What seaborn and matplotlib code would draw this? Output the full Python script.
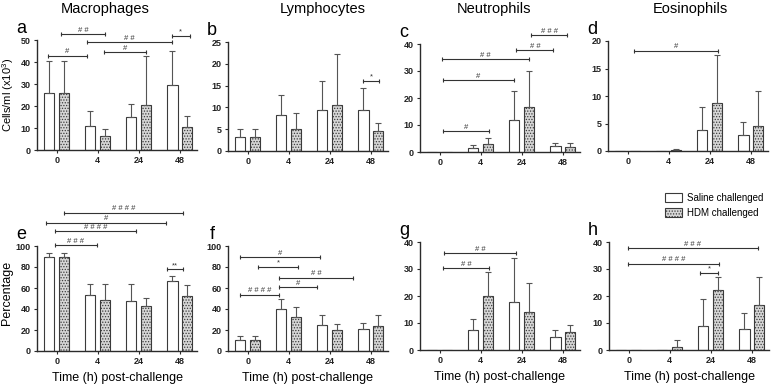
import numpy as np
import pandas as pd
import seaborn as sns
import matplotlib.pyplot as plt
from matplotlib.patches import Patch

times = ['0', '4', '24', '48']
groups = ['Saline challenged', 'HDM challenged']

# Top row: cells/ml (x10^3), mean and SD (only the upper SD is drawn)
mac_cells_saline = [25.8, 10.9, 15.2, 29.5]
mac_cells_saline_sd = [14.7, 6.8, 5.6, 15.7]
mac_cells_hdm = [25.8, 6.5, 20.3, 10.3]
mac_cells_hdm_sd = [14.7, 2.9, 22.6, 5.3]

lym_cells_saline = [3.1, 8.2, 9.3, 9.3]
lym_cells_saline_sd = [2.0, 4.7, 6.7, 5.1]
lym_cells_hdm = [3.1, 5.0, 10.6, 4.5]
lym_cells_hdm_sd = [2.0, 3.8, 11.6, 2.0]

neu_cells_saline = [0, 1.6, 11.7, 2.1]
neu_cells_saline_sd = [0, 1.1, 10.9, 1.4]
neu_cells_hdm = [0, 3.1, 16.8, 1.7]
neu_cells_hdm_sd = [0, 2.1, 13.2, 1.8]

eos_cells_saline = [0, 0, 3.9, 3.0]
eos_cells_saline_sd = [0, 0, 4.1, 2.3]
eos_cells_hdm = [0, 0.1, 8.8, 4.6]
eos_cells_hdm_sd = [0, 0.2, 8.6, 6.3]

# Bottom row: percentage of cells
mac_pct_saline = [89.8, 53.7, 47.9, 67.0]
mac_pct_saline_sd = [3.2, 9.8, 15.6, 4.4]
mac_pct_hdm = [89.8, 48.3, 42.9, 52.4]
mac_pct_hdm_sd = [3.2, 15.8, 7.3, 10.5]

lym_pct_saline = [10.8, 39.7, 25.1, 21.3]
lym_pct_saline_sd = [3.8, 10.1, 8.9, 5.7]
lym_pct_hdm = [10.8, 32.4, 20.3, 24.1]
lym_pct_hdm_sd = [3.8, 9.5, 5.1, 9.9]

neu_pct_saline = [0, 7.4, 17.7, 4.8]
neu_pct_saline_sd = [0, 4.0, 16.3, 2.6]
neu_pct_hdm = [0, 20.1, 14.2, 6.6]
neu_pct_hdm_sd = [0, 8.8, 10.8, 2.7]

eos_pct_saline = [0, 0, 9.0, 7.7]
eos_pct_saline_sd = [0, 0, 10.0, 6.0]
eos_pct_hdm = [0, 1.2, 22.1, 16.8]
eos_pct_hdm_sd = [0, 2.4, 4.9, 10.2]

# significance brackets: (start, end in category units, height, label)
brackets_a = [(-0.2, 0.73, 42.9, '#'), (0.1, 1.18, 52.7, '# #'), (0.73, 2.8, 48.9, '# #'),
              (1.16, 2.18, 44.4, '#'), (2.8, 3.25, 52.0, '*')]
brackets_b = [(2.82, 3.2, 16.0, '*')]
brackets_c = [(2.23, 3.1, 43.2, '# # #'), (1.87, 2.77, 37.6, '# #'), (0.06, 2.18, 34.4, '# #'),
              (0.08, 1.81, 26.5, '#'), (0.08, 1.2, 7.8, '#')]
brackets_d = [(0.15, 2.2, 18.2, '#')]
brackets_e = [(0.18, 3.08, 131.7, '# # # #'), (-0.26, 2.67, 122.2, '#'), (-0.04, 1.93, 114.3, '# # # #'),
              (-0.04, 0.98, 101.0, '# # #'), (2.69, 3.08, 77.8, '**')]
brackets_f = [(-0.19, 1.76, 89.5, '#'), (0.25, 1.23, 80.0, '*'), (0.76, 2.57, 69.8, '# #'),
              (0.76, 1.69, 61.0, '#'), (-0.19, 0.76, 53.7, '# # # #')]
brackets_g = [(0.1, 1.86, 35.9, '# #'), (0.08, 1.2, 30.3, '# #')]
brackets_h = [(-0.02, 3.15, 37.8, '# # #'), (-0.02, 2.2, 32.0, '# # # #'), (1.74, 2.18, 28.5, '*')]

W, H = 773, 385
plt.rcParams['font.family'] = ['Liberation Sans', 'DejaVu Sans']
plt.rcParams['mathtext.default'] = 'regular'
plt.rcParams['hatch.linewidth'] = 0.6

fig = plt.figure(figsize=(W / 100, H / 100), dpi=100)


def rect(left, top, bottom, width=160):
    return [left / W, 1 - bottom / H, width / W, (bottom - top) / H]


panels = [
    ('a', rect(37, 40, 150), mac_cells_saline, mac_cells_saline_sd, mac_cells_hdm, mac_cells_hdm_sd, 50, 10, brackets_a),
    ('b', rect(228, 42, 151), lym_cells_saline, lym_cells_saline_sd, lym_cells_hdm, lym_cells_hdm_sd, 25, 5, brackets_b),
    ('c', rect(420, 44, 152), neu_cells_saline, neu_cells_saline_sd, neu_cells_hdm, neu_cells_hdm_sd, 40, 10, brackets_c),
    ('d', rect(608, 41, 151), eos_cells_saline, eos_cells_saline_sd, eos_cells_hdm, eos_cells_hdm_sd, 20, 5, brackets_d),
    ('e', rect(37, 246, 351), mac_pct_saline, mac_pct_saline_sd, mac_pct_hdm, mac_pct_hdm_sd, 100, 20, brackets_e),
    ('f', rect(228, 246, 351), lym_pct_saline, lym_pct_saline_sd, lym_pct_hdm, lym_pct_hdm_sd, 100, 20, brackets_f),
    ('g', rect(420, 242, 350), neu_pct_saline, neu_pct_saline_sd, neu_pct_hdm, neu_pct_hdm_sd, 40, 10, brackets_g),
    ('h', rect(609, 242, 350), eos_pct_saline, eos_pct_saline_sd, eos_pct_hdm, eos_pct_hdm_sd, 40, 10, brackets_h),
]

titles = ['Macrophages', 'Lymphocytes', 'Neutrophils', 'Eosinophils']
title_x = [105, 323, 494, 690]

ink = '#2b2b2b'
for i, (letter, r, sal, sal_sd, hdm, hdm_sd, ymax, ystep, brackets) in enumerate(panels):
    ax = fig.add_axes(r)
    df = pd.DataFrame({'time': times * 2,
                       'group': [groups[0]] * 4 + [groups[1]] * 4,
                       'value': sal + hdm})
    sns.barplot(data=df, x='time', y='value', hue='group', order=times, hue_order=groups,
                palette=['white', '#d6d6d6'], width=0.73, gap=0.3, errorbar=None,
                edgecolor='#3a3a3a', linewidth=0.8, legend=False, ax=ax)
    for bar in ax.containers[1]:
        bar.set_hatch('......')

    # upper error bars only
    for cont, means, sds in [(ax.containers[0], sal, sal_sd), (ax.containers[1], hdm, hdm_sd)]:
        xs = [b.get_x() + b.get_width() / 2 for b in cont]
        keep = [k for k in range(len(xs)) if sds[k] > 0]
        ax.errorbar([xs[k] for k in keep], [means[k] for k in keep],
                    yerr=[[0] * len(keep), [sds[k] for k in keep]],
                    fmt='none', ecolor='#555555', elinewidth=0.8, capsize=2.2, capthick=0.8)

    for x1, x2, y, lab in brackets:
        ax.plot([x1, x2], [y, y], color='#333333', lw=0.8, marker='|', markersize=3.5,
                markeredgewidth=0.8, clip_on=False)
        ax.annotate(lab, xy=((x1 + x2) / 2, y), xytext=(0, 0.3), textcoords='offset points',
                    ha='center', va='bottom', fontsize=5.5, color='#333333', annotation_clip=False)

    ax.set_xlim(-0.48, 3.42)
    ax.set_ylim(0, ymax)
    ax.set_yticks(np.arange(0, ymax + 0.1, ystep))
    ax.set_xlabel('')
    ax.set_ylabel('')
    sns.despine(ax=ax)
    for s in ['left', 'bottom']:
        ax.spines[s].set_color(ink)
        ax.spines[s].set_linewidth(1.0)
    ax.tick_params(axis='both', length=2.5, width=0.8, color=ink, pad=2, labelsize=6.5)
    for t in ax.get_xticklabels() + ax.get_yticklabels():
        t.set_fontweight('bold')
        t.set_color('#222222')

    ax.annotate(letter, xy=(0, 1), xycoords='axes fraction', xytext=(-11.5, 8.5),
                textcoords='offset points', ha='center', va='center', fontsize=13)

    if i < 4:
        fig.text(title_x[i] / W, 1 - 9 / H, titles[i], ha='center', va='center', fontsize=10.5)
    else:
        ax.set_xlabel('Time (h) post-challenge', fontsize=9, labelpad=4)

    if letter == 'a':
        ax.set_ylabel('Cells/ml (x10$^{3}$)', fontsize=8)
        ax.yaxis.set_label_coords(-0.13, 0.5)
    if letter == 'e':
        ax.set_ylabel('Percentage', fontsize=9)
        ax.yaxis.set_label_coords(-0.15, 0.55)

handles = [Patch(facecolor='white', edgecolor='#3a3a3a', lw=0.8, label=groups[0]),
           Patch(facecolor='#d6d6d6', edgecolor='#3a3a3a', lw=0.8, hatch='......', label=groups[1])]
fig.legend(handles=handles, loc='upper left', bbox_to_anchor=(656 / W, 1 - 184 / H), frameon=False,
           fontsize=7, handlelength=1.8, handleheight=1.0, handletextpad=0.5, labelspacing=0.5)

fig.savefig('out.png', dpi=100)
